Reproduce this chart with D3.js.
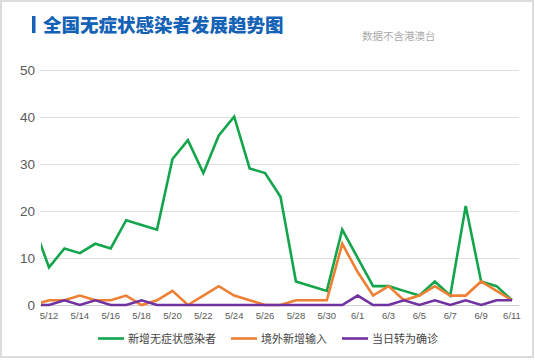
<!DOCTYPE html>
<html><head><meta charset="utf-8">
<script src="https://cdn.jsdelivr.net/npm/d3@7/dist/d3.min.js"></script>
<style>
html,body{margin:0;padding:0;background:#fff;}
svg{display:block;}
</style></head>
<body>
<svg id="c" width="535" height="360"></svg>
<script>
const dates = ["5/11","5/12","5/13","5/14","5/15","5/16","5/17","5/18","5/19","5/20","5/21","5/22","5/23","5/24","5/25","5/26","5/27","5/28","5/29","5/30","5/31","6/1","6/2","6/3","6/4","6/5","6/6","6/7","6/8","6/9","6/10","6/11"];
const newAsymptomatic = [17,8,12,11,13,12,18,17,16,31,35,28,36,40,29,28,23,5,4,3,16,10,4,4,3,2,5,2,21,5,4,1];
const imported = [0,1,1,2,1,1,2,0,1,3,0,2,4,2,1,0,0,1,1,1,13,7,2,4,1,2,4,2,2,5,3,1];
const confirmed = [0,0,1,0,1,0,0,1,0,0,0,0,0,0,0,0,0,0,0,0,0,2,0,0,1,0,1,0,1,0,1,1];
const yTicks = [0,10,20,30,40,50];
const xTickLabels = ["5/12","5/14","5/16","5/18","5/20","5/22","5/24","5/26","5/28","5/30","6/1","6/3","6/5","6/7","6/9","6/11"];
const seriesNames = ["新增无症状感染者","境外新增输入","当日转为确诊"];
const colors = ["#13a54b","#ef7f33","#7032a0"];

const svg = d3.select("#c");
const cjk = "'Noto Sans CJK SC', sans-serif";
const latin = "'Liberation Sans', Arial, sans-serif";

// card border
svg.append("rect").attr("x",1).attr("y",1).attr("width",532).attr("height",356)
  .attr("fill","#fff").attr("stroke","#dcdcdc").attr("stroke-width",2);

// title
svg.append("rect").attr("x",32).attr("y",16).attr("width",3.5).attr("height",17).attr("fill","#1462b6");
svg.append("text").attr("x",43).attr("y",32).text("全国无症状感染者发展趋势图")
  .attr("font-family",cjk).attr("font-weight",900).attr("font-size",18.5).attr("fill","#1462b6");
svg.append("text").attr("x",362).attr("y",40).text("数据不含港澳台")
  .attr("font-family",cjk).attr("font-size",10.5).attr("fill","#aaaaaa");

const plotLeft = 40, plotRight = 519;
const x = d3.scaleLinear().domain([1,31]).range([49,512]);
const y = d3.scaleLinear().domain([0,50]).range([305,69.5]);

// grid
const g = svg.append("g");
g.selectAll("line.grid").data(yTicks).enter().append("line")
  .attr("x1",plotLeft).attr("x2",plotRight)
  .attr("y1",d=>Math.round(y(d))+0.5).attr("y2",d=>Math.round(y(d))+0.5)
  .attr("stroke",d=>d===0?"#cfcfcf":"#dedede").attr("stroke-width",1);
g.selectAll("text.yl").data(yTicks).enter().append("text")
  .attr("x",35).attr("y",d=>y(d)+5).attr("text-anchor","end")
  .attr("font-family",latin).attr("font-size",13.5).attr("fill","#5a5a5a").text(d=>d);

// x labels
g.selectAll("text.xl").data(xTickLabels).enter().append("text")
  .attr("x",d=>x(dates.indexOf(d))).attr("y",319).attr("text-anchor","middle")
  .attr("font-family",latin).attr("font-size",9.5).attr("fill","#5a5a5a").text(d=>d);

// clip
svg.append("clipPath").attr("id","clip").append("rect")
  .attr("x",41).attr("y",40).attr("width",480).attr("height",280);

const line = d3.line().x((d,i)=>x(i)).y(d=>y(d));
const series = [newAsymptomatic, imported, confirmed];
const lg = svg.append("g").attr("clip-path","url(#clip)");
series.forEach((s,k)=>{
  lg.append("path").datum(s).attr("d",line).attr("fill","none")
    .attr("stroke",colors[k]).attr("stroke-width",2.6).attr("stroke-linejoin","miter");
});

// legend
const legX = [98,231,342];
series.forEach((s,k)=>{
  svg.append("line").attr("x1",legX[k]).attr("x2",legX[k]+26).attr("y1",338.5).attr("y2",338.5)
    .attr("stroke",colors[k]).attr("stroke-width",2.6);
  svg.append("text").attr("x",legX[k]+30).attr("y",342.5).text(seriesNames[k])
    .attr("font-family",cjk).attr("font-size",11).attr("fill","#444");
});
</script>
</body></html>
